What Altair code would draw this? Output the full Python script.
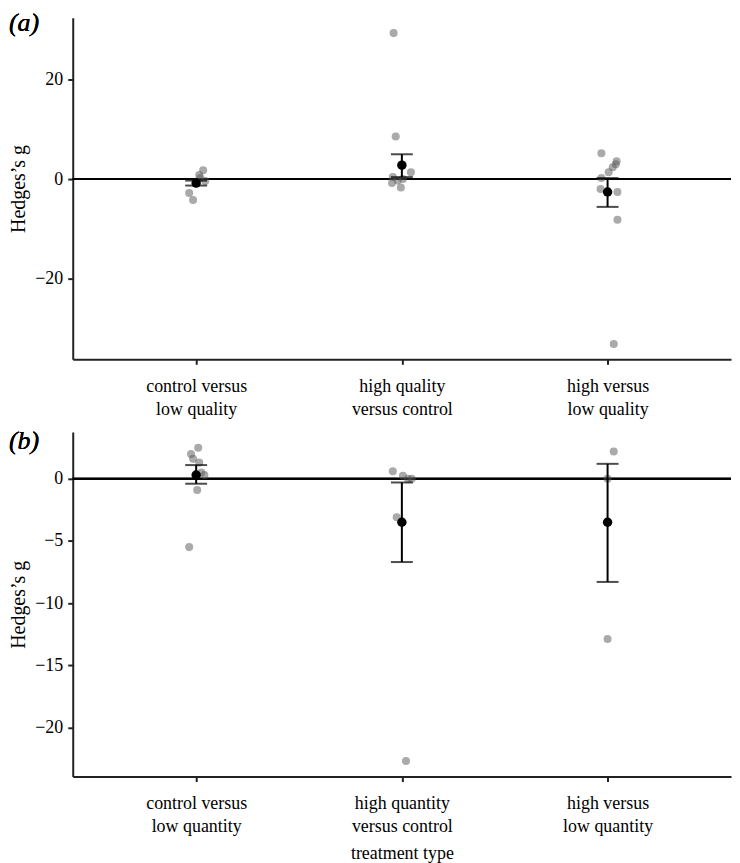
import json
import altair as alt
import pandas as pd

FONT = "Liberation Serif, Times New Roman, serif"

# ---------------- data ----------------
groups_a = ["control versus|low quality", "high quality|versus control", "high versus|low quality"]
groups_b = ["control versus|low quantity", "high quantity|versus control", "high versus|low quantity"]

# panel (a): summary (mean and error-bar limits) per group
mean_a = [-0.8, 2.8, -2.6]
lo_a = [-1.3, 0.4, -5.6]
hi_a = [-0.3, 5.0, 0.2]

# panel (a): individual effect sizes (group index, value, horizontal jitter)
pt_group_a = [0, 0, 0, 0, 0, 0,
              1, 1, 1, 1, 1, 1, 1, 1,
              2, 2, 2, 2, 2, 2, 2, 2, 2, 2]
pt_val_a = [1.8, 0.8, 0.2, -0.4, -2.8, -4.2,
            29.4, 8.6, 1.4, 0.4, 0.0, -0.3, -0.8, -1.7,
            5.2, 3.6, 3.0, 2.4, 1.4, 0.2, -2.0, -2.6, -8.2, -33.2]
pt_jit_a = [0.034, 0.015, 0.02, 0.044, -0.034, -0.015,
            -0.04, -0.03, 0.044, -0.044, 0.005, -0.02, -0.048, -0.005,
            -0.03, 0.044, 0.04, 0.025, 0.005, -0.03, -0.034, 0.048, 0.048, 0.03]

# panel (b)
mean_b = [0.3, -3.5, -3.5]
lo_b = [-0.4, -6.7, -8.3]
hi_b = [1.1, -0.3, 1.2]

pt_group_b = [0, 0, 0, 0, 0, 0, 0, 0,
              1, 1, 1, 1, 1, 1,
              2, 2, 2]
pt_val_b = [2.5, 2.0, 1.6, 1.3, 0.5, 0.3, -0.9, -5.5,
            0.6, 0.25, 0.0, 0.0, -3.1, -22.7,
            2.2, 0.0, -12.9]
pt_jit_b = [0.01, -0.025, -0.015, 0.015, 0.025, 0.04, 0.005, -0.034,
            -0.044, 0.005, 0.048, 0.03, -0.025, 0.02,
            0.03, 0.0, 0.0]

ydom_a = [-36.3, 32.5]
yticks_a = [-20, 0, 20]
ydom_b = [-23.96, 3.76]
yticks_b = [-20, -15, -10, -5, 0]


def panel(groups, means, lo, hi, pg, pv, pj, ydom, yticks, letter, letter_y, xtitle, h):
    summ = pd.DataFrame({"pos": [1, 2, 3], "mean": means, "lo": lo, "hi": hi})
    pts = pd.DataFrame({"pos": [g + 1 + j for g, j in zip(pg, pj)], "g": pv})
    label_expr = "split(%s[round(datum.value) - 1], '|')" % json.dumps(groups)
    xaxis = alt.Axis(values=[1, 2, 3], labelExpr=label_expr, labelLineHeight=23,
                     labelPadding=13, tickSize=5, grid=False, titlePadding=9,
                     labelFont=FONT, titleFont=FONT, titleFontSize=18)
    x = alt.X("pos:Q", scale=alt.Scale(domain=[0.4, 3.6], nice=False, zero=False),
              axis=xaxis, title=xtitle if xtitle else None)
    yscale = alt.Scale(domain=ydom, nice=False, zero=False)
    yaxis = alt.Axis(values=yticks, grid=False, tickSize=5, labelPadding=5, titlePadding=6,
                     labelFont=FONT, titleFont=FONT, titleFontSize=20)
    base_pts = alt.Chart(pts)
    base_sum = alt.Chart(summ)

    zero = alt.Chart(summ).mark_rule(color="black", strokeWidth=2).encode(y=alt.datum(0))
    dots = base_pts.mark_circle(color="#555555", opacity=0.5, size=65).encode(
        x=x, y=alt.Y("g:Q", scale=yscale, axis=yaxis, title="Hedges’s g"))
    bars = base_sum.mark_rule(color="black", strokeWidth=2).encode(
        x="pos:Q", y="lo:Q", y2="hi:Q")
    cap_lo = base_sum.mark_tick(color="black", orient="horizontal", size=22, thickness=2).encode(
        x="pos:Q", y="lo:Q")
    cap_hi = base_sum.mark_tick(color="black", orient="horizontal", size=22, thickness=2).encode(
        x="pos:Q", y="hi:Q")
    mean_pt = base_sum.mark_circle(color="black", opacity=1, size=90).encode(
        x="pos:Q", y="mean:Q")
    tag = alt.Chart(summ).mark_text(text=letter, font=FONT, fontStyle="italic", fontWeight="normal",
                                    fontSize=26, align="left", baseline="top", color="black").encode(
        x=alt.value(-64), y=alt.value(letter_y))
    return alt.layer(zero, dots, bars, cap_lo, cap_hi, mean_pt, tag).properties(width=661, height=h)


pa = panel(groups_a, mean_a, lo_a, hi_a, pt_group_a, pt_val_a, pt_jit_a,
           ydom_a, yticks_a, "(a)", -8, None, 343)
pb = panel(groups_b, mean_b, lo_b, hi_b, pt_group_b, pt_val_b, pt_jit_b,
           ydom_b, yticks_b, "(b)", -4, "treatment type", 346)

chart = alt.vconcat(pa, pb, spacing=73, bounds="flush").properties(
    padding={"left": 0, "top": 0, "right": 0, "bottom": 0}
).configure(font=FONT).configure_view(strokeWidth=0).configure_axis(
    labelFont=FONT, titleFont=FONT, labelFontSize=18,
    labelColor="black", titleColor="black", titleFontWeight="normal",
    domainColor="#222222", domainWidth=2, tickColor="#222222", tickWidth=2,
)

chart.save("out.html", embed_options={"renderer": "svg", "actions": False})
